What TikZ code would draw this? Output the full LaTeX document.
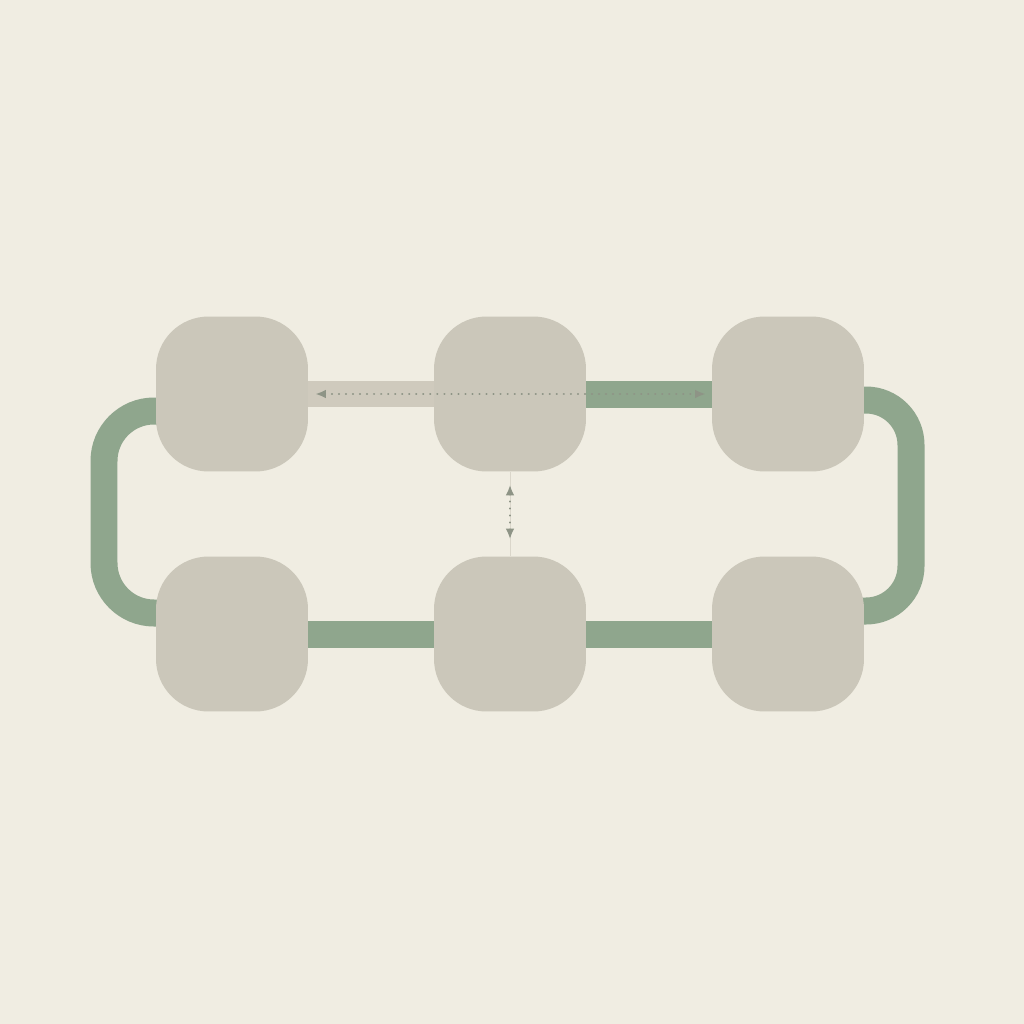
\documentclass[tikz,border=0pt]{standalone}
\usetikzlibrary{arrows.meta,calc}
\definecolor{cream}{HTML}{F0EDE2}
\definecolor{boxgray}{HTML}{CBC7BA}
\definecolor{pathgreen}{HTML}{8FA68D}
\definecolor{pathbeige}{HTML}{CFCABD}
\definecolor{dotgray}{HTML}{8E9486}
\pgfdeclarelayer{paper}
\pgfdeclarelayer{track}
\pgfsetlayers{paper,track,main}
\tikzset{
  stop/.style={fill=boxgray,draw=none,rounded corners=1.05cm,minimum width=3.04cm,minimum height=3.1cm,inner sep=0pt},
  greentrack/.style={draw=pathgreen,line width=0.54cm},
  beigetrack/.style={draw=pathbeige,line width=0.52cm},
  dottip/.style={Latex[length=6pt,width=5pt,fill=dotgray,line width=0.4pt]},
  dotarrow/.style={dotgray,line width=1.2pt,line cap=round,dash pattern=on 0.1pt off 3.9pt,{Latex[length=6pt,width=5pt]}-{Latex[length=6pt,width=5pt]}}
}
\begin{document}
\begin{tikzpicture}[x=0.02cm,y=-0.02cm]
    \begin{pgfonlayer}{paper}
        \fill[cream] (0,0) rectangle (1024,1024);
    \end{pgfonlayer}
    % six stops
    \node[stop] (A) at (232,394) {};
    \node[stop] (B) at (510,394) {};
    \node[stop] (C) at (788,394) {};
    \node[stop] (D) at (232,634) {};
    \node[stop] (E) at (510,634) {};
    \node[stop] (F) at (788,634) {};
    \begin{pgfonlayer}{track}
        \draw[beigetrack] (A.center) -- (B.center);
        \draw[greentrack] (B.center) -- (C.center);
        \draw[greentrack] (D.center) -- (E.center) -- (F.center);
        \draw[greentrack,rounded corners=1cm] ($(A.center)+(0,17)$) -- ++(-128,0) |- ($(D.center)+(0,-21)$);
        \draw[greentrack,rounded corners=0.9cm] ($(C.center)+(0,6)$) -- ++(123,0) |- ($(F.center)+(0,-23)$);
    \end{pgfonlayer}
    % dotted links
    \draw[dotarrow,shorten <=0.14cm,shorten >=0.12cm] (A.east) -- (C.west);
    \draw[boxgray!60!cream,line width=0.5pt] (B.south) -- (E.north);
    \draw[dotarrow,shorten <=0.26cm,shorten >=0.34cm] (B.south) -- (E.north);
\end{tikzpicture}
\end{document}
